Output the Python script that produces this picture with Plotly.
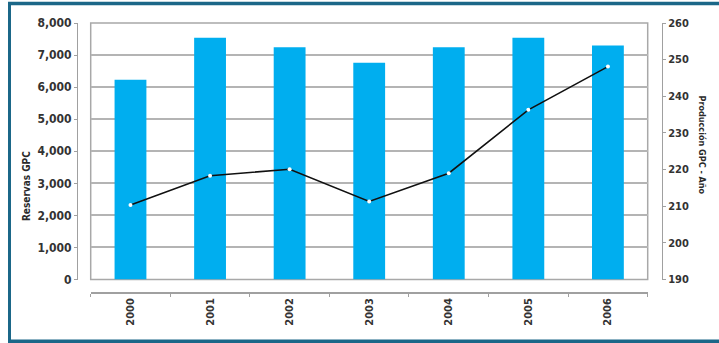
import plotly.graph_objects as go

# Data
years = ["2000", "2001", "2002", "2003", "2004", "2005", "2006"]
reservas_gpc = [6230, 7540, 7240, 6760, 7240, 7540, 7300]
produccion_gpc = [210.3, 218.3, 220.1, 211.3, 219.0, 236.3, 248.1]

left_ticks = [0, 1000, 2000, 3000, 4000, 5000, 6000, 7000, 8000]
right_ticks = [190, 200, 210, 220, 230, 240, 250, 260]

FONT = "DejaVu Sans, sans-serif"
TEXT = "#333333"
GRID = "#b4b4b4"
TEAL = "#1b6788"

W, H = 719, 343
ML, MR, MT, MB = 77, 57, 23, 50
PW, PH = W - ML - MR, H - MT - MB


def px_x(x):
    return (x - ML) / PW


def px_y(y):
    return (H - MB - y) / PH


fig = go.Figure()

fig.add_trace(go.Bar(
    x=years, y=reservas_gpc, name="Reservas GPC",
    marker=dict(color="#00aeef", line=dict(width=0)),
    yaxis="y",
))

fig.add_trace(go.Scatter(
    x=years, y=produccion_gpc, name="Producción GPC",
    mode="lines+markers",
    line=dict(color="#111111", width=1.6),
    marker=dict(color="white", size=4, line=dict(width=0)),
    yaxis="y2",
))

x_dom = [px_x(90.7), px_x(647.7)]
y_dom = [px_y(279.5), 1.0]

shapes = [
    # plot frame
    dict(type="rect", xref="paper", yref="paper",
         x0=x_dom[0], x1=x_dom[1], y0=y_dom[0], y1=y_dom[1],
         line=dict(color="#a8a8a8", width=1.5), layer="below"),
    # outer border
    dict(type="line", xref="paper", yref="paper",
         x0=px_x(8), x1=px_x(719), y0=px_y(3.5), y1=px_y(3.5),
         line=dict(color=TEAL, width=3.5)),
    dict(type="line", xref="paper", yref="paper",
         x0=px_x(9.5), x1=px_x(9.5), y0=px_y(2), y1=px_y(343),
         line=dict(color=TEAL, width=3)),
    dict(type="line", xref="paper", yref="paper",
         x0=px_x(8), x1=px_x(719), y0=px_y(341.2), y1=px_y(341.2),
         line=dict(color=TEAL, width=3.5)),
]

annotations = [
    dict(text="<b>Reservas GPC</b>", xref="paper", yref="paper",
         x=px_x(27), y=px_y(186), xanchor="center", yanchor="middle",
         showarrow=False, textangle=-90,
         font=dict(family=FONT, size=10, color="#2a2a2a")),
    dict(text="<b>Producción GPC - Año</b>", xref="paper", yref="paper",
         x=px_x(702), y=px_y(145), xanchor="center", yanchor="middle",
         showarrow=False, textangle=90,
         font=dict(family=FONT, size=9, color="#2a2a2a")),
]

fig.update_layout(
    width=W, height=H,
    margin=dict(l=ML, r=MR, t=MT, b=MB, pad=0),
    paper_bgcolor="white", plot_bgcolor="rgba(0,0,0,0)",
    showlegend=False,
    bargap=0.6,
    shapes=shapes,
    annotations=annotations,
    xaxis=dict(
        domain=x_dom, anchor="free", position=0,
        type="category",
        showline=True, linecolor="#a0a0a0", linewidth=1.5,
        ticks="outside", tickson="boundaries", ticklen=3, tickcolor="#a0a0a0",
        tickangle=-90,
        tickfont=dict(family=FONT, size=11, color=TEXT, weight="bold"),
        showgrid=False, zeroline=False,
    ),
    yaxis=dict(
        domain=y_dom, anchor="free", position=0,
        range=[0, 8000], tickvals=left_ticks, tickformat=",d",
        showline=True, linecolor="#a0a0a0", linewidth=1,
        ticks="outside", ticklen=3, tickcolor="#a0a0a0",
        tickfont=dict(family=FONT, size=12, color=TEXT, weight="bold"),
        showgrid=True, gridcolor=GRID, gridwidth=1.5,
        zeroline=False,
    ),
    yaxis2=dict(
        overlaying="y", side="right", anchor="free", position=1,
        range=[190, 260], tickvals=right_ticks,
        showline=True, linecolor="#a0a0a0", linewidth=1,
        ticks="outside", ticklen=3, tickcolor="#a0a0a0",
        tickfont=dict(family=FONT, size=11, color=TEXT, weight="bold"),
        showgrid=False, zeroline=False,
    ),
)

# Use the condensed width of the face for all chart text
condense_text = """
var gd = document.getElementById('{plot_id}');
function condense() {
  gd.querySelectorAll('text').forEach(function (t) {
    t.style.fontStretch = 'condensed';
  });
}
condense();
gd.on('plotly_afterplot', condense);
"""

fig.write_html("out.html", post_script=condense_text)
